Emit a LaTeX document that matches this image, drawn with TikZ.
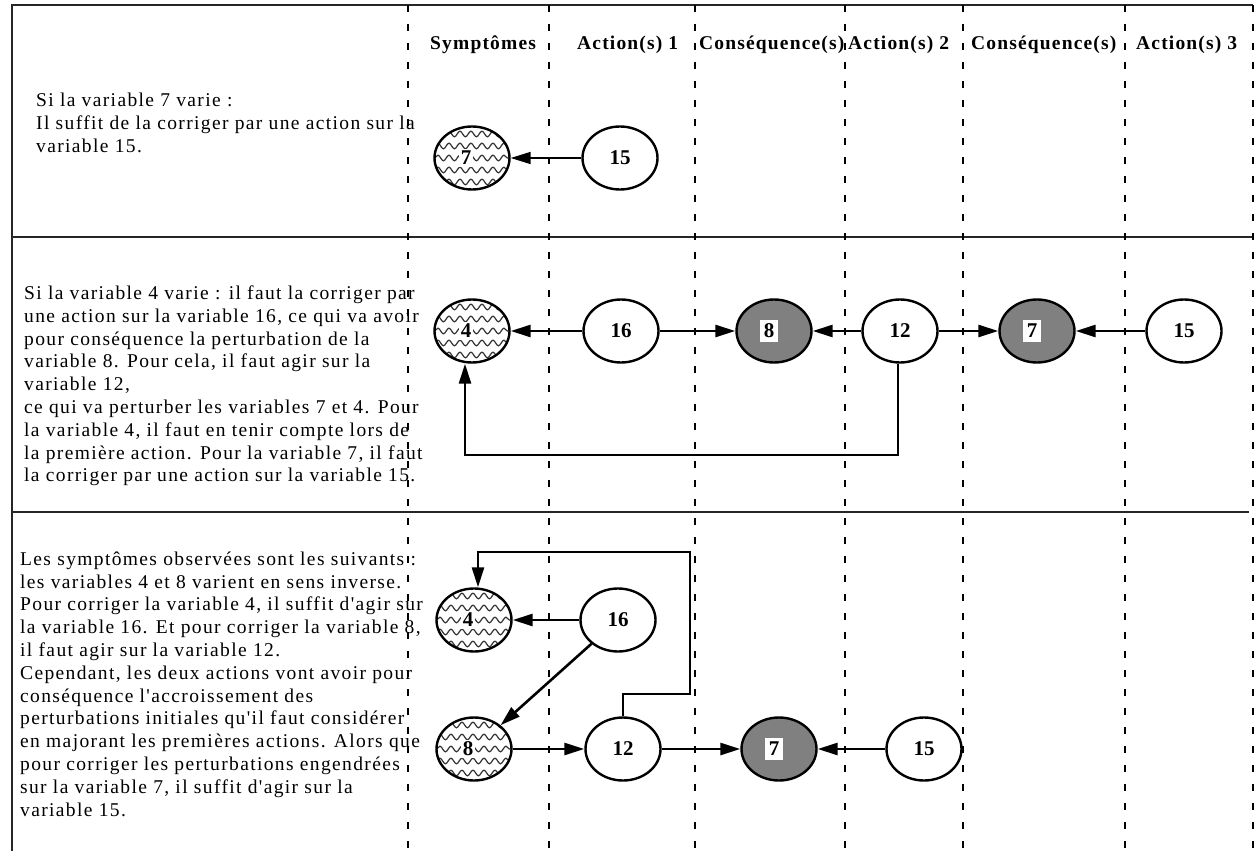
\documentclass[tikz,border=0pt]{standalone}
\usepackage{fontspec}
\setmainfont{Liberation Serif}
\newfontfamily\bodyfont[LetterSpace=7]{Liberation Serif}
\newfontfamily\headfont[LetterSpace=6]{Liberation Serif}
\usepackage{tikz}
\usetikzlibrary{arrows.meta,positioning,shapes.geometric,decorations.pathmorphing}

\begin{document}
\begin{tikzpicture}[
    x=1pt, y=-1pt,
    var/.style={draw, ellipse, line width=2.4pt, minimum width=75pt, minimum height=63pt, inner sep=0pt, font=\bfseries\fontsize{21}{21}\selectfont},
    sympt/.style={var, fill=white,
        path picture={\foreach \dy in {-24,-12,...,24}
            \draw[black!80, line width=1.2pt, decorate, decoration={snake, amplitude=2.8pt, segment length=11pt}]
            ([yshift=\dy pt]path picture bounding box.west) -- ([yshift=\dy pt]path picture bounding box.east);},
        label={[fill=white, inner sep=2pt, xshift=-6pt, font=\bfseries\fontsize{21}{21}\selectfont]center:#1}},
    pert/.style={var, fill=black!50,
        label={[fill=white, inner sep=4pt, xshift=-5pt, font=\bfseries\fontsize{21}{21}\selectfont]center:#1}},
    txt/.style={anchor=west, align=left, inner sep=0pt, font=\bodyfont\fontsize{19.5}{22.8}\selectfont},
    head/.style={anchor=west, inner sep=0pt, font=\headfont\bfseries\fontsize{19.5}{19.5}\selectfont},
    sep/.style={line width=1.3pt, dash pattern=on 7pt off 12pt},
    rule/.style={line width=1.4pt, black!85},
    arr/.style={-{Triangle[length=20pt, width=12pt]}, line width=2.6pt},
]
    \useasboundingbox (0,0) rectangle (1256,851);

    % Frame
    \draw[rule] (12,851) -- (12,5) -- (1253,5);
    \draw[rule] (12,237) -- (1253,237);
    \draw[rule] (12,512) -- (1249,512);
    \foreach \xx in {408,549,695,845,963,1125,1253}
        \draw[sep] (\xx,5) -- (\xx,851);

    % Headers
    \node[head] (h_sym) at (430,45) {Symptômes};
    \node[head] (h_act1) at (577,45) {Action(s) 1};
    \node[head] (h_csq1) at (699,45) {Conséquence(s)};
    \node[head] (h_act2) at (848,45) {Action(s) 2};
    \node[head] (h_csq2) at (971,45) {Conséquence(s)};
    \node[head] (h_act3) at (1136,45) {Action(s) 3};

    % Case 1
    \node[txt] (t1) at (36,123) {Si la variable 7 varie :\\Il suffit de la corriger par une action sur la\\variable 15.};
    \node[sympt=7] (s1_v7) at (472,158) {};
    \node[var] (s1_v15) at (620,158) {15};
    \draw[arr, line width=1.6pt] (s1_v15) -- (s1_v7);

    % Case 2
    \node[txt] (t2) at (24,386) {Si la variable 4 varie : il faut la corriger par\\une action sur la variable 16, ce qui va avoir\\pour conséquence la perturbation de la\\variable 8. Pour cela, il faut agir sur la\\variable 12,\\ce qui va perturber les variables 7 et 4. Pour\\la variable 4, il faut en tenir compte lors de\\la première action. Pour la variable 7, il faut\\la corriger par une action sur la variable 15.};
    \node[sympt=4] (s2_v4) at (472,331) {};
    \node[var] (s2_v16) at (621,331) {16};
    \node[pert=8] (s2_v8) at (774,331) {};
    \node[var] (s2_v12) at (900,331) {12};
    \node[pert=7] (s2_v7) at (1037,331) {};
    \node[var] (s2_v15) at (1184,331) {15};
    \coordinate (s2_k) at (700,455);
    \draw[arr] (s2_v16) -- (s2_v4);
    \draw[arr] (s2_v16) -- (s2_v8);
    \draw[arr] (s2_v12) -- (s2_v8);
    \draw[arr] (s2_v12) -- (s2_v7);
    \draw[arr] (s2_v15) -- (s2_v7);
    \draw[arr] ([xshift=-2pt]s2_v12.south) |- (s2_k) -| ([xshift=-7pt]s2_v4.south);

    % Case 3
    \node[txt] (t3) at (20,684) {Les symptômes observées sont les suivants :\\les variables 4 et 8 varient en sens inverse.\\Pour corriger la variable 4, il suffit d'agir sur\\la variable 16. Et pour corriger la variable 8,\\il faut agir sur la variable 12.\\Cependant, les deux actions vont avoir pour\\conséquence l'accroissement des\\perturbations initiales qu'il faut considérer\\en majorant les premières actions. Alors que\\pour corriger les perturbations engendrées\\sur la variable 7, il suffit d'agir sur la\\variable 15.};
    \node[sympt=4] (s3_v4) at (474,620) {};
    \node[var] (s3_v16) at (618,620) {16};
    \node[sympt=8] (s3_v8) at (474,749) {};
    \node[var] (s3_v12) at (623,749) {12};
    \node[pert=7] (s3_v7) at (779,749) {};
    \node[var] (s3_v15) at (924,749) {15};
    \coordinate (s3_k1) at (690,694);
    \coordinate (s3_k2) at (690,552);
    \draw[arr] (s3_v16) -- (s3_v4);
    \draw[arr] (s3_v16) -- (s3_v8);
    \draw[arr] (s3_v8) -- (s3_v12);
    \draw[arr] (s3_v12) -- (s3_v7);
    \draw[arr] (s3_v15) -- (s3_v7);
    \draw[arr] (s3_v12.north) |- (s3_k1) -- (s3_k2) -| ([xshift=4pt]s3_v4.north);
\end{tikzpicture}
\end{document}
